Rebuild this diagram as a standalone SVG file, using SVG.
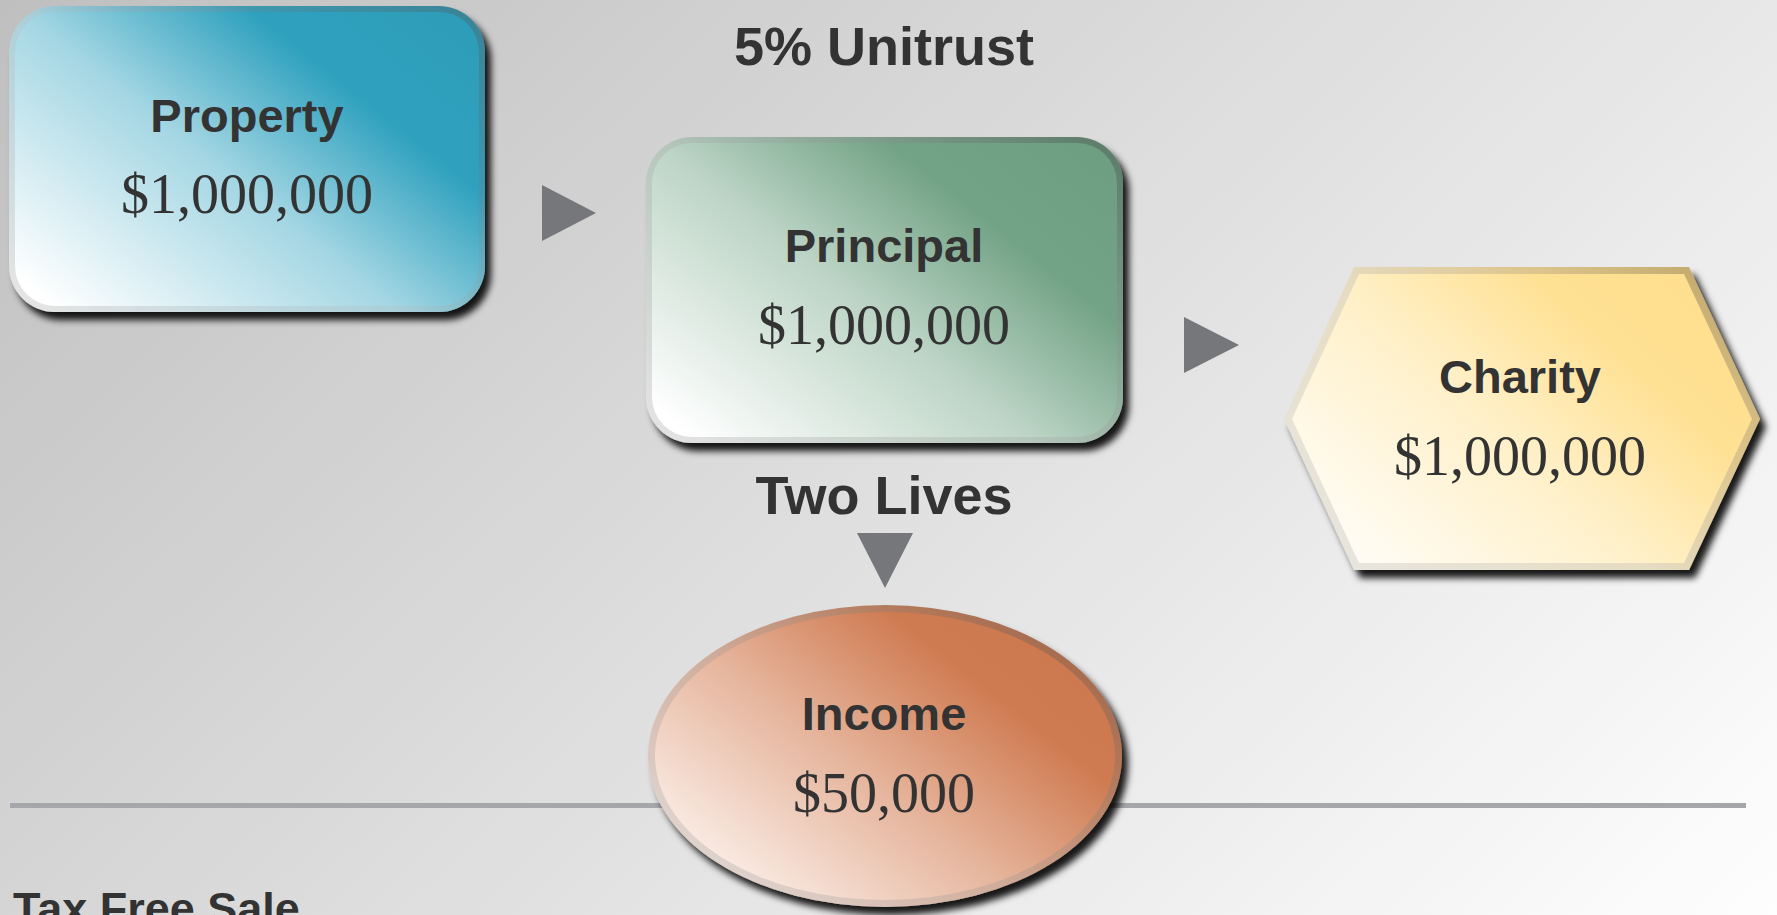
<svg xmlns="http://www.w3.org/2000/svg" width="1777" height="915" viewBox="0 0 1777 915">
<style>
.lbl{font-family:"Liberation Sans",Arial,sans-serif;font-weight:bold;fill:#333333;text-anchor:middle}
.amt{font-family:"Liberation Serif","Times New Roman",serif;fill:#333333;text-anchor:middle;font-size:56px}
.arrow{fill:#76777b}
</style>
<defs>
<linearGradient id="bg" gradientUnits="userSpaceOnUse" x1="0" y1="0" x2="1334" y2="1386">
<stop offset="0" stop-color="#bfbfbf"/><stop offset="1" stop-color="#ffffff"/>
</linearGradient>
<filter id="sh" x="-10%" y="-10%" width="125%" height="130%">
<feDropShadow dx="6" dy="8" stdDeviation="3.5" flood-color="#000" flood-opacity="0.9"/>
</filter>
<linearGradient id="gBlue" x1="0" y1="0.9" x2="1" y2="0.1">
<stop offset="0" stop-color="#ffffff"/><stop offset="0.45" stop-color="#a3d6e3"/><stop offset="0.75" stop-color="#2fa1be"/><stop offset="1" stop-color="#2e9dba"/>
</linearGradient>
<linearGradient id="rBlue" x1="0" y1="0.9" x2="1" y2="0.1">
<stop offset="0" stop-color="#e4e4e4"/><stop offset="0.45" stop-color="#a9cfd9"/><stop offset="0.75" stop-color="#3f97ae"/><stop offset="1" stop-color="#3a8599"/>
</linearGradient>
<linearGradient id="gGreen" x1="0" y1="0.9" x2="1" y2="0.1">
<stop offset="0" stop-color="#ffffff"/><stop offset="0.45" stop-color="#bcd4c5"/><stop offset="0.75" stop-color="#73a386"/><stop offset="1" stop-color="#6f9f82"/>
</linearGradient>
<linearGradient id="rGreen" x1="0" y1="0.9" x2="1" y2="0.1">
<stop offset="0" stop-color="#e2e2e2"/><stop offset="0.45" stop-color="#b5c6bb"/><stop offset="0.75" stop-color="#7a9a87"/><stop offset="1" stop-color="#5f7f6c"/>
</linearGradient>
<linearGradient id="gYellow" x1="0" y1="0.85" x2="1" y2="0.15">
<stop offset="0" stop-color="#fffdf8"/><stop offset="0.45" stop-color="#fff0c8"/><stop offset="0.75" stop-color="#ffe194"/><stop offset="1" stop-color="#ffdf8e"/>
</linearGradient>
<linearGradient id="rYellow" x1="0" y1="0.85" x2="1" y2="0.15">
<stop offset="0" stop-color="#e8e6e0"/><stop offset="0.45" stop-color="#e6dcc2"/><stop offset="0.75" stop-color="#dcc48c"/><stop offset="1" stop-color="#c2a86c"/>
</linearGradient>
<linearGradient id="gOrange" x1="0" y1="0.9" x2="1" y2="0.1">
<stop offset="0" stop-color="#fffaf7"/><stop offset="0.45" stop-color="#e5b39a"/><stop offset="0.75" stop-color="#cf7b51"/><stop offset="1" stop-color="#cb7850"/>
</linearGradient>
<linearGradient id="rOrange" x1="0" y1="0.9" x2="1" y2="0.1">
<stop offset="0" stop-color="#e4e0de"/><stop offset="0.45" stop-color="#cfaa98"/><stop offset="0.75" stop-color="#b37a5c"/><stop offset="1" stop-color="#9e6246"/>
</linearGradient>
</defs>

<rect x="0" y="0" width="1777" height="915" fill="url(#bg)"/>

<line x1="10" y1="805.5" x2="1746" y2="805.5" stroke="#a6a7aa" stroke-width="5"/>

<text class="lbl" x="884" y="65" font-size="54">5% Unitrust</text>
<text class="lbl" x="884" y="514" font-size="54">Two Lives</text>
<text class="lbl" x="13" y="924" font-size="45" style="text-anchor:start">Tax Free Sale</text>

<g id="connectors">
<polygon class="arrow" points="542,185 596,213 542,241"/>
<polygon class="arrow" points="1184,317 1239,345 1184,373"/>
<polygon class="arrow" points="857,533 913,533 885,588"/>
</g>

<g id="property">
<rect x="9" y="6" width="476" height="306" rx="46" fill="url(#rBlue)" filter="url(#sh)"/>
<rect x="15" y="12" width="464" height="294" rx="40" fill="url(#gBlue)"/>
<text class="lbl" x="247" y="132" font-size="47">Property</text>
<text class="amt" x="247" y="213">$1,000,000</text>
</g>

<g id="principal">
<rect x="646" y="137" width="477" height="306" rx="46" fill="url(#rGreen)" filter="url(#sh)"/>
<rect x="652" y="143" width="465" height="294" rx="40" fill="url(#gGreen)"/>
<text class="lbl" x="884" y="262" font-size="47">Principal</text>
<text class="amt" x="884" y="344">$1,000,000</text>
</g>

<g id="charity">
<polygon points="1284,419 1354,267 1689,267 1760,419 1689,570 1354,570" fill="url(#rYellow)" filter="url(#sh)"/>
<polygon points="1292,419 1359,274 1684,274 1752,419 1684,563 1359,563" fill="url(#gYellow)"/>
<text class="lbl" x="1520" y="393" font-size="47">Charity</text>
<text class="amt" x="1520" y="475">$1,000,000</text>
</g>

<g id="income">
<ellipse cx="885" cy="756" rx="237" ry="151" fill="url(#rOrange)" filter="url(#sh)"/>
<ellipse cx="885" cy="756" rx="230" ry="144" fill="url(#gOrange)"/>
<text class="lbl" x="884" y="730" font-size="47">Income</text>
<text class="amt" x="884" y="812">$50,000</text>
</g>
</svg>
